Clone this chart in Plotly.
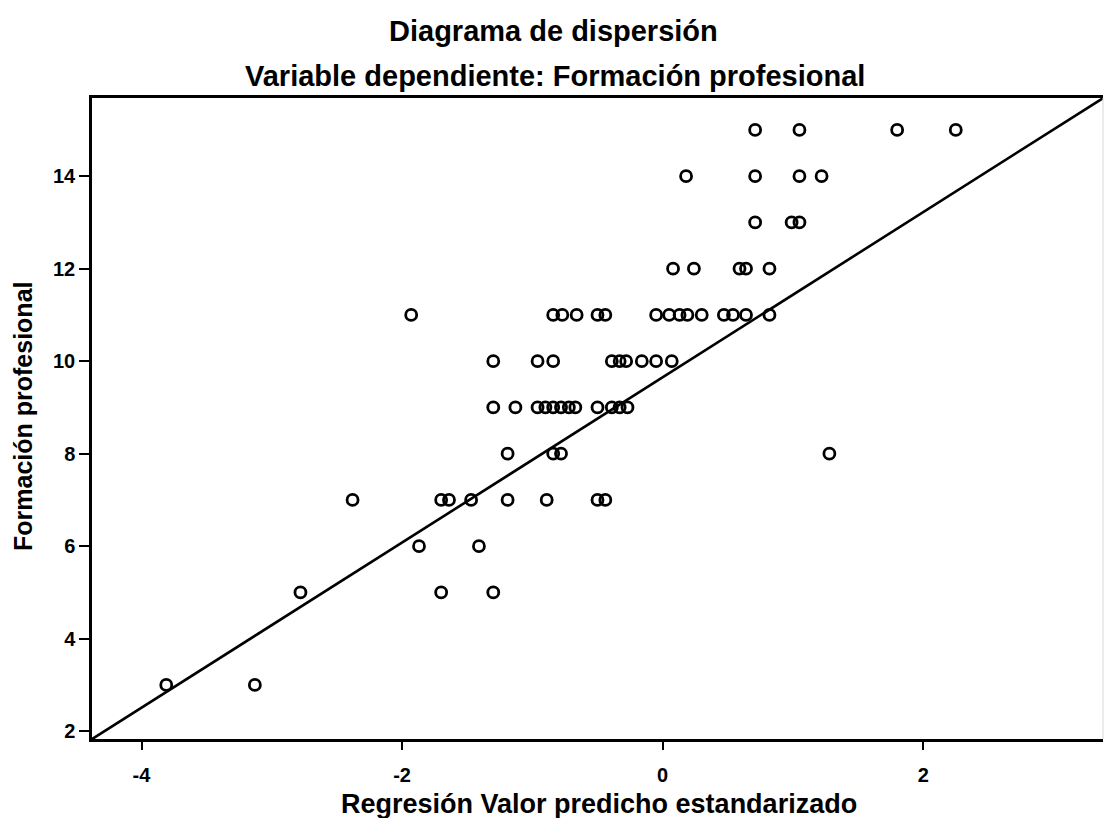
import plotly.graph_objects as go

row_15 = [0.71, 1.05, 1.80, 2.25]
row_14 = [0.18, 0.71, 1.05, 1.22]
row_13 = [0.71, 0.99, 1.05]
row_12 = [0.08, 0.24, 0.59, 0.64, 0.82]
row_11 = [-1.93, -0.84, -0.77, -0.66, -0.50, -0.44, -0.05, 0.05, 0.13, 0.19, 0.30, 0.47, 0.54, 0.64, 0.82]
row_10 = [-1.30, -0.96, -0.84, -0.39, -0.33, -0.28, -0.16, -0.05, 0.07]
row_9 = [-1.30, -1.13, -0.96, -0.90, -0.84, -0.78, -0.72, -0.67, -0.50, -0.39, -0.33, -0.27]
row_8 = [-1.19, -0.84, -0.78, 1.28]
row_7 = [-2.38, -1.70, -1.64, -1.47, -1.19, -0.89, -0.50, -0.44]
row_6 = [-1.87, -1.41]
row_5 = [-2.78, -1.70, -1.30]
row_3 = [-3.81, -3.13]

rows = {15: row_15, 14: row_14, 13: row_13, 12: row_12, 11: row_11, 10: row_10,
        9: row_9, 8: row_8, 7: row_7, 6: row_6, 5: row_5, 3: row_3}

# Fit line parameters
line_intercept = 9.65
line_slope = 1.786

x_range = [-4.38, 3.38]
y_range = [1.83, 15.69]
x_ticks = [-4, -2, 0, 2]
y_ticks = [2, 4, 6, 8, 10, 12, 14]

title_main = "Diagrama de dispersión"
title_sub = "Variable dependiente: Formación profesional"
x_title = "Regresión Valor predicho estandarizado"
y_title = "Formación profesional"

xs, ys = [], []
for yv, xl in rows.items():
    for xv in xl:
        xs.append(xv)
        ys.append(yv)

FONT = "Liberation Sans, Arial, sans-serif"

# plot area in pixels: x 92..1103, y 98..739
L, R, T, B = 92, 1103, 98, 739
W, H = R - L, B - T


def px(xp):
    return (xp - L) / W


def py(yp):
    return (B - yp) / H


fig = go.Figure()
fig.add_trace(go.Scatter(
    x=x_range,
    y=[line_intercept + line_slope * v for v in x_range],
    mode="lines",
    line=dict(color="black", width=2.6),
    hoverinfo="skip",
    showlegend=False,
))
fig.add_trace(go.Scatter(
    x=xs, y=ys, mode="markers",
    marker=dict(symbol="circle-open", size=11, color="black", line=dict(width=2.8, color="black")),
    showlegend=False,
))

bold = dict(family=FONT, weight="bold", color="black")

fig.update_layout(
    width=1105, height=818,
    margin=dict(l=L, r=1105 - R, t=T, b=818 - B, autoexpand=False),
    paper_bgcolor="white", plot_bgcolor="white",
    font=dict(family=FONT, color="black"),
    annotations=[
        dict(text=title_main, x=px(553), y=py(31), xref="paper", yref="paper",
             showarrow=False, xanchor="center", yanchor="middle", font=dict(size=29, **bold)),
        dict(text=title_sub, x=px(555), y=py(76), xref="paper", yref="paper",
             showarrow=False, xanchor="center", yanchor="middle", font=dict(size=29, **bold)),
        dict(text=x_title, x=px(599), y=py(804), xref="paper", yref="paper",
             showarrow=False, xanchor="center", yanchor="middle", font=dict(size=27, **bold)),
        dict(text=y_title, x=px(23), y=py(417), xref="paper", yref="paper", textangle=-90,
             showarrow=False, xanchor="center", yanchor="middle", font=dict(size=25, **bold)),
    ],
    shapes=[
        dict(type="line", xref="paper", yref="paper", x0=1, x1=1, y0=0, y1=1,
             line=dict(color="#d8d8d8", width=1)),
    ],
)
fig.update_xaxes(
    range=x_range, tickvals=x_ticks, ticktext=[str(t) for t in x_ticks],
    showgrid=False, zeroline=False, automargin=False,
    showline=True, linecolor="black", linewidth=2.5, mirror=True,
    ticks="outside", ticklen=8, tickwidth=2, tickcolor="black",
    ticklabelstandoff=8,
    tickfont=dict(size=20, **bold),
)
fig.update_yaxes(
    range=y_range, tickvals=y_ticks, ticktext=[str(t) for t in y_ticks],
    showgrid=False, zeroline=False, automargin=False,
    showline=True, linecolor="black", linewidth=2.5, mirror=False,
    ticks="outside", ticklen=10, tickwidth=2, tickcolor="black",
    tickfont=dict(size=20, **bold),
)

fig.write_html(
    "out.html",
    config={"displayModeBar": False},
    post_script="document.body.style.margin='0';document.body.style.overflow='hidden';",
)
